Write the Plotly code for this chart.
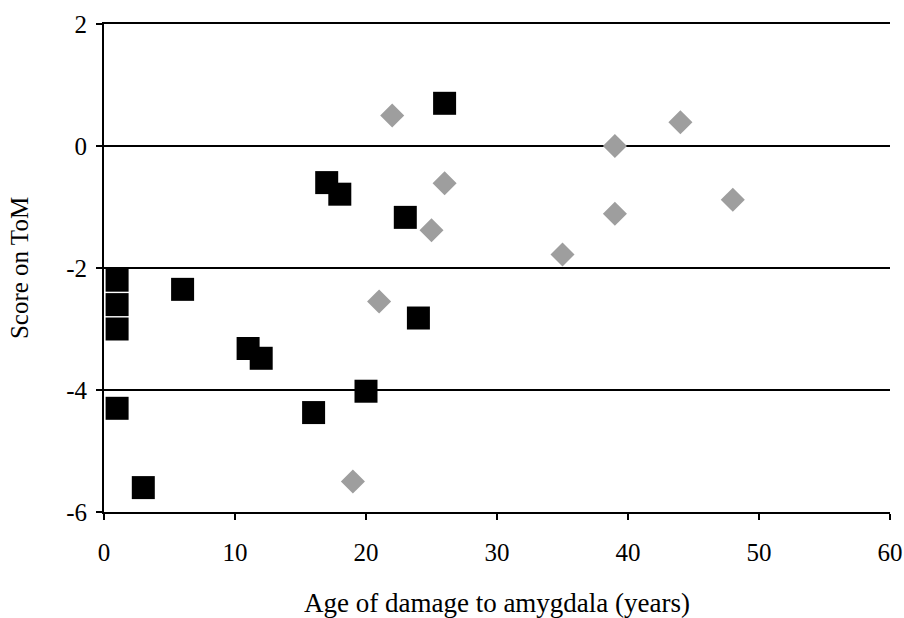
import plotly.graph_objects as go

# Black squares series
sq_x = [1, 1, 1, 1, 3, 6, 11, 12, 16, 17, 18, 20, 23, 24, 26]
sq_y = [-2.2, -2.6, -3.0, -4.3, -5.6, -2.35, -3.32, -3.48, -4.37, -0.6, -0.79, -4.02, -1.17, -2.82, 0.7]

# Gray diamonds series
dm_x = [19, 21, 22, 25, 26, 35, 39, 39, 44, 48]
dm_y = [-5.5, -2.55, 0.5, -1.38, -0.61, -1.78, 0.0, -1.11, 0.39, -0.88]

x_ticks = [0, 10, 20, 30, 40, 50, 60]
y_ticks = [-6, -4, -2, 0, 2]

font_family = "Liberation Serif, Times New Roman, serif"

fig = go.Figure()
fig.add_trace(go.Scatter(
    x=sq_x, y=sq_y, mode="markers",
    marker=dict(symbol="square", size=23, color="black", line=dict(width=0)),
    showlegend=False, cliponaxis=False,
))
fig.add_trace(go.Scatter(
    x=dm_x, y=dm_y, mode="markers",
    marker=dict(symbol="diamond", size=18.5, color="#9e9e9e", line=dict(width=0)),
    showlegend=False, cliponaxis=False,
))

fig.update_layout(
    width=904, height=618,
    margin=dict(l=104, r=14, t=24, b=106, autoexpand=False),
    paper_bgcolor="white", plot_bgcolor="white",
    font=dict(family=font_family, size=25, color="black"),
    xaxis=dict(
        range=[0, 60], tickvals=x_ticks, ticktext=[str(v) for v in x_ticks],
        showgrid=False, zeroline=False, automargin=False,
        showline=True, linecolor="black", linewidth=2, mirror=True,
        ticks="outside", ticklen=6, tickwidth=2, tickcolor="black",
        ticklabelstandoff=11,
        tickfont=dict(size=25),
        title=dict(text="Age of damage to amygdala (years)", standoff=29,
                   font=dict(size=27)),
    ),
    yaxis=dict(
        range=[-6, 2], tickvals=y_ticks, ticktext=[str(v) for v in y_ticks],
        showgrid=True, gridcolor="black", gridwidth=2,
        zeroline=False, automargin=False,
        showline=True, linecolor="black", linewidth=2,
        ticks="outside", ticklen=6, tickwidth=2, tickcolor="black",
        ticklabelstandoff=4,
        tickfont=dict(size=25),
        title=dict(text="Score on ToM", standoff=30, font=dict(size=25)),
    ),
)

fig.write_html("out.html")
